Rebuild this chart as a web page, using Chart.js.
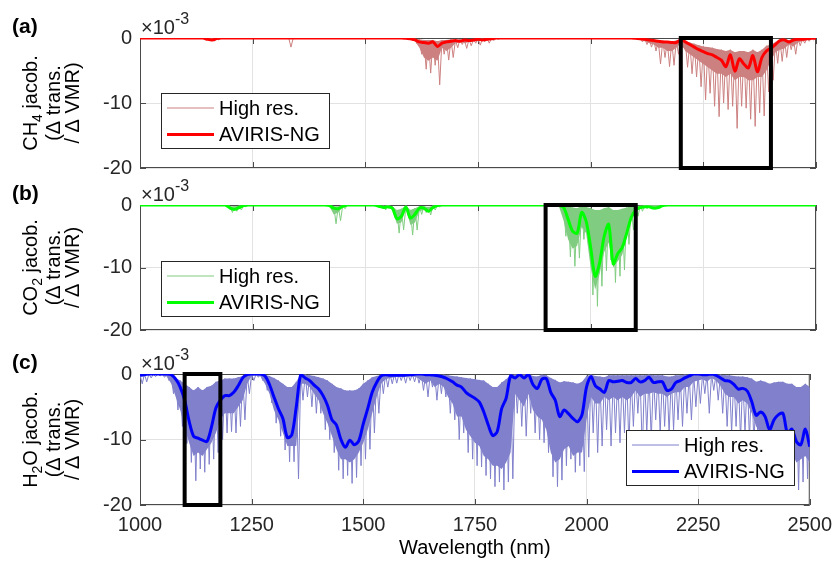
<!DOCTYPE html>
<html><head><meta charset="utf-8">
<script src="https://cdn.jsdelivr.net/npm/chart.js@4.4.1/dist/chart.umd.min.js"></script>
<style>
html,body{margin:0;padding:0;background:#fff;}
#wrap{position:relative;width:840px;height:561px;overflow:hidden;background:#fff;}
canvas{position:absolute;left:0;}
</style></head><body>
<div id="wrap">
<canvas id="ca" width="840" height="190" style="top:0px"></canvas>
<canvas id="cb" width="840" height="180" style="top:170px"></canvas>
<canvas id="cc" width="840" height="221" style="top:340px"></canvas>
</div>
<script>
// wavelength grid (nm), 10 nm steps 1000..2500
const wavelengths = [];
for (let w = 1000; w <= 2500; w += 10) wavelengths.push(w);
const xTicks = [1000, 1250, 1500, 1750, 2000, 2250, 2500];
const yTicks = [-20, -10, 0];
const boxRanges = {a: [2200, 2400], b: [1900, 2100], c: [1100, 1180]};

// ---- CH4 (x10^-3) ----
const ch4Aviris = [
 0,0,0,0,0,0,0,0,0,0,
 0,0,0,0,0,-0.2,-0.3,-0.1,0,0,
 0,0,0,0,0,0,0,0,0,0,
 0,0,0,0,0,0,0,0,0,0,
 0,0,0,0,0,0,0,0,0,0,
 0,0,0,0,0,0,0,0,0,-0.05,
 -0.1,-0.3,-0.6,-0.7,-0.8,-0.6,-1.3,-0.8,-0.6,-0.5,
 -0.4,-0.5,-0.3,-0.4,-0.3,-0.2,-0.3,-0.2,-0.1,0,
 0,0,0,0,0,0,0,0,0,0,
 0,0,0,0,0,0,0,0,0,0,
 0,0,0,0,0,0,0,0,0,0,
 -0.05,-0.1,-0.2,-0.3,-0.4,-0.5,-0.6,-0.6,-0.7,-0.7,
 -0.3,-0.6,-1.0,-1.4,-1.8,-2.1,-2.4,-2.6,-3.0,-3.4,
 -4.4,-2.6,-5.1,-3.2,-4.0,-4.6,-2.7,-5.2,-3.0,-2.0,
 -1.6,-1.0,-0.4,-0.3,-0.6,-0.3,-0.2,-0.2,-0.1,-0.05,
 0];
const ch4HighTop = [
 0,0,0,0,0,0,0,0,0,0,
 0,0,0,0,0,0,0,0,0,0,
 0,0,0,0,0,0,0,0,0,0,
 0,0,0,0,0,0,0,0,0,0,
 0,0,0,0,0,0,0,0,0,0,
 0,0,0,0,0,0,0,0,0,0,
 0,-0.1,-0.2,-0.3,-0.3,-0.3,-0.5,-0.3,-0.3,-0.2,
 -0.3,-0.2,-0.3,-0.2,-0.2,-0.1,-0.1,-0.1,0,0,
 0,0,0,0,0,0,0,0,0,0,
 0,0,0,0,0,0,0,0,0,0,
 0,0,0,0,0,0,0,0,0,0,
 0,0,-0.1,-0.2,-0.3,-0.4,-0.4,-0.5,-0.5,-0.4,
 -0.2,-0.5,-0.7,-0.9,-1.1,-1.3,-1.4,-1.5,-1.7,-1.8,
 -2.0,-1.8,-2.2,-2.0,-2.0,-2.2,-1.8,-2.2,-1.8,-1.2,
 -1.0,-0.6,-0.3,-0.2,-0.3,-0.2,-0.1,-0.1,0,0,
 0];
const ch4HighBody = [
 0,0,0,0,0,0,0,0,0,0,
 0,0,0,0,0,-0.1,-0.2,-0.1,0,0,
 0,0,0,0,0,0,0,0,0,0,
 0,0,0,0,0,0,0,0,0,0,
 0,0,0,0,0,0,0,0,0,0,
 0,0,0,0,0,0,0,0,0,0,
 0,-0.5,-1.5,-3.0,-3.5,-3.0,-3.5,-1.5,-2.0,-1.5,
 -0.8,-0.6,-0.8,-0.6,-0.5,-0.5,-0.3,-0.4,-0.2,-0.1,
 0,0,0,0,0,0,0,0,0,0,
 0,0,0,0,0,0,0,0,0,0,
 0,0,0,0,0,0,0,0,0,0,
 -0.2,-0.3,-0.5,-0.8,-1.0,-1.5,-1.5,-2.0,-2.0,-1.5,
 -0.8,-2.0,-2.5,-3.0,-3.5,-4.0,-4.5,-5.0,-5.5,-5.5,
 -6.0,-5.5,-6.5,-6.0,-6.0,-6.5,-6.5,-6.0,-6.0,-5.0,
 -3.5,-2.2,-1.8,-1.6,-1.0,-1.3,-0.7,-0.5,-0.3,-0.2,
 0];
const ch4HighTip = [
 0,0,0,0,0,0,0,0,0,0,
 0,0,0,0,0,-0.3,-0.5,-0.3,0,0,
 0,0,0,0,0,0,0,0,0,0,
 0,0,0,-1.4,0,0,0,0,0,0,
 0,0,0,0,0,0,0,0,0,0,
 0,0,0,0,0,0,0,0,0,0,
 -0.3,-0.9,-2.5,-4.8,-5.4,-4.2,-7.2,-2.5,-3.4,-3.0,
 -1.5,-1.0,-1.6,-1.2,-0.8,-1.1,-0.6,-0.8,-0.4,-0.2,
 0,0,0,0,0,0,0,0,0,0,
 0,0,0,0,0,0,0,0,0,0,
 0,0,0,0,0,0,0,0,0,0,
 -0.3,-0.6,-1.0,-1.4,-2.0,-4.0,-3.0,-4.4,-4.2,-2.5,
 -1.5,-4.5,-5.5,-6.0,-7.5,-9.5,-8.5,-10.5,-12.1,-10.0,
 -11.0,-10.5,-13.9,-10.5,-10.8,-12.5,-13.6,-11.5,-12.0,-8.3,
 -6.5,-3.9,-3.6,-3.0,-1.8,-2.5,-1.2,-0.8,-0.5,-0.3,
 0];

// ---- CO2 (x10^-3) ----
const co2Aviris = [
 0,0,0,0,0,0,0,0,0,0,
 0,0,0,0,0,0,0,0,0,0,
 -0.5,-0.7,-0.4,-0.1,0,0,0,0,0,0,
 0,0,0,0,0,0,0,0,0,0,
 0,0,-0.1,-0.5,-0.6,-0.2,0,0,0,0,
 0,0,0,-0.2,-0.4,-0.3,-0.5,-2.2,-1.8,-0.3,
 -2.1,-1.5,-0.5,-0.5,-1.0,-0.4,-0.1,0,0,0,
 0,0,0,0,0,0,0,0,0,0,
 0,0,0,0,0,0,0,0,0,0,
 0,0,0,-0.1,-0.4,-2.3,-4.2,-4.5,-1.2,-2.6,
 -6.8,-11.4,-9.2,-5.0,-3.1,-9.4,-7.8,-6.8,-4.5,-2.0,
 -0.8,-0.4,-0.3,-0.3,-0.5,-0.4,-0.1,0,0,0,
 0,0,0,0,0,0,0,0,0,0,
 0,0,0,0,0,0,0,0,0,0,
 0,0,0,0,0,0,0,0,0,0,
 0];
const co2HighTop = [
 0,0,0,0,0,0,0,0,0,0,
 0,0,0,0,0,0,0,0,0,0,
 -0.2,-0.2,-0.1,0,0,0,0,0,0,0,
 0,0,0,0,0,0,0,0,0,0,
 0,0,0,-0.2,-0.2,0,0,0,0,0,
 0,0,0,0,-0.1,0,-0.2,-0.8,-0.6,-0.1,
 -0.8,-0.5,-0.2,-0.2,-0.3,-0.1,0,0,0,0,
 0,0,0,0,0,0,0,0,0,0,
 0,0,0,0,0,0,0,0,0,0,
 0,0,0,0,-0.1,-0.2,-0.4,-0.5,-0.1,-0.3,
 -0.5,-0.8,-0.8,-0.5,-0.3,-0.8,-0.8,-0.6,-0.4,-0.2,
 -0.1,-0.1,0,0,0,0,0,0,0,0,
 0,0,0,0,0,0,0,0,0,0,
 0,0,0,0,0,0,0,0,0,0,
 0,0,0,0,0,0,0,0,0,0,
 0];
const co2HighBody = [
 0,0,0,0,0,0,0,0,0,0,
 0,0,0,0,0,0,0,0,0,0,
 -0.6,-0.5,-0.4,-0.1,0,0,0,0,0,0,
 0,0,0,0,0,0,0,0,0,0,
 0,0,-0.2,-1.5,-1.2,-0.3,0,0,0,0,
 0,0,0,-0.3,-0.5,-0.3,-0.8,-3.0,-2.8,-0.6,
 -3.2,-2.8,-1.0,-0.8,-1.2,-0.5,-0.2,0,0,0,
 0,0,0,0,0,0,0,0,0,0,
 0,0,0,0,0,0,0,0,0,0,
 0,0,0,-0.3,-2.5,-5.5,-7.0,-6.5,-3.5,-4.5,
 -10.0,-13.5,-11.0,-7.5,-6.0,-10.0,-9.0,-8.0,-5.0,-2.5,
 -1.0,-0.6,-0.4,-0.3,-0.5,-0.3,0,0,0,0,
 0,0,0,0,0,0,0,0,0,0,
 0,0,0,0,0,0,0,0,0,0,
 0,0,0,0,0,0,0,0,0,0,
 0];
const co2HighTip = [
 0,0,0,0,0,0,0,0,0,0,
 0,0,0,0,0,0,0,0,0,0,
 -1.2,-1.0,-0.8,-0.3,0,0,0,0,0,0,
 0,0,0,0,0,0,0,0,0,0,
 0,0,-0.4,-3.0,-2.5,-0.6,0,0,0,0,
 0,0,0,-0.5,-0.8,-0.5,-1.2,-4.5,-4.0,-1.0,
 -4.8,-4.0,-1.5,-1.2,-1.6,-0.8,-0.3,0,0,0,
 0,0,0,0,0,0,0,0,0,0,
 0,0,0,0,0,0,0,0,0,0,
 0,0,0,-0.5,-5.0,-8.3,-9.8,-8.5,-5.5,-6.3,
 -14.4,-16.2,-13.0,-10.5,-8.8,-12.4,-11.4,-10.4,-6.3,-4.0,
 -1.8,-1.0,-0.6,-0.4,-0.6,-0.4,0,0,0,0,
 0,0,0,0,0,0,0,0,0,0,
 0,0,0,0,0,0,0,0,0,0,
 0,0,0,0,0,0,0,0,0,0,
 0];

// ---- H2O (x10^-3) ----
const h2oAviris = [
 -0.15,-0.1,0,0,0,0,0,-0.1,-0.8,-2.0,
 -4.0,-7.2,-9.5,-9.8,-10.1,-10.3,-8.1,-5.2,-4.0,-3.3,
 -3.3,-2.8,-1.8,-0.6,-0.1,0,0,0,-0.3,-1.6,
 -3.5,-5.3,-6.8,-9.7,-9.3,-5.0,-0.1,-0.6,-1.0,-1.7,
 -2.3,-3.3,-4.8,-7.0,-7.8,-10.0,-11.2,-10.1,-10.8,-10.2,
 -7.6,-5.3,-2.8,-1.3,-0.3,-0.1,-0.2,-0.2,-0.2,-0.2,
 -0.1,-0.1,0,0,-0.1,-0.1,-0.2,-0.3,-0.5,-0.8,
 -1.2,-1.7,-2.0,-2.8,-3.3,-3.7,-4.3,-5.8,-7.8,-9.4,
 -8.8,-5.3,-3.7,-0.3,-0.6,-0.1,-0.6,-0.1,-1.6,-2.2,
 -0.8,-0.7,-2.8,-4.0,-6.5,-5.5,-6.1,-6.8,-7.3,-6.2,
 -2.0,-0.4,-1.8,-2.3,-2.8,-1.0,-1.2,-1.1,-1.0,-1.3,
 -1.3,-0.7,-1.2,-1.0,-0.5,-1.3,-1.2,-1.2,-2.5,-2.3,
 -1.3,-1.0,-0.6,-0.3,0,0,-0.1,-0.1,0,-0.2,
 -0.6,-1.0,-1.1,-1.6,-2.3,-2.2,-2.6,-4.2,-6.3,-5.8,
 -6.5,-8.5,-7.0,-6.2,-6.0,-9.0,-8.4,-10.3,-10.8,-8.4,
 -11.1];
const h2oHighTop = [
 -0.1,0,0,0,0,0,0,-0.2,-0.6,-1.0,
 -1.5,-2.0,-2.5,-2.0,-2.5,-2.0,-1.8,-1.2,-1.0,-0.7,
 -0.7,-0.7,-0.5,-0.3,-0.1,0,0,0,-0.1,-0.3,
 -0.6,-1.0,-1.5,-2.0,-2.0,-1.2,0,-0.1,-0.2,-0.3,
 -0.5,-0.7,-1.0,-1.5,-2.0,-2.2,-2.5,-2.5,-2.5,-2.2,
 -1.5,-1.0,-0.5,-0.3,-0.1,0,0,0,0,0,
 0,0,0,0,0,0,-0.1,-0.1,-0.1,-0.2,
 -0.3,-0.4,-0.5,-0.6,-0.7,-0.8,-0.9,-1.0,-1.5,-2.0,
 -2.0,-1.3,-0.8,-0.1,-0.1,0,-0.1,0,-0.3,-0.4,
 -0.1,-0.2,-0.6,-0.9,-1.3,-1.1,-1.2,-1.3,-1.5,-1.2,
 -0.3,-0.1,-0.3,-0.4,-0.5,-0.2,-0.2,-0.2,-0.2,-0.2,
 -0.2,-0.2,-0.2,-0.2,-0.1,-0.2,-0.2,-0.2,-0.4,-0.4,
 -0.2,-0.2,-0.1,-0.1,0,0,0,0,0,-0.1,
 -0.1,-0.2,-0.2,-0.3,-0.4,-0.4,-0.5,-0.7,-1.2,-1.0,
 -1.2,-1.5,-1.3,-1.2,-1.2,-1.5,-1.5,-2.0,-2.0,-1.5,
 -2.0];
const h2oHighBody = [
 -0.5,-0.3,-0.1,-0.1,-0.1,-0.2,-0.4,-1.5,-3.5,-5.5,
 -8.0,-10.5,-12.5,-12.0,-12.5,-11.5,-10.5,-9.0,-7.0,-6.0,
 -6.0,-6.0,-5.0,-4.0,-1.5,-0.3,-0.2,-0.4,-1.5,-3.0,
 -5.5,-7.0,-9.0,-11.0,-11.0,-11.0,-1.5,-1.5,-2.0,-3.0,
 -4.0,-6.0,-7.5,-9.5,-11.5,-13.0,-13.0,-13.5,-13.0,-12.0,
 -10.5,-8.5,-6.0,-3.5,-1.5,-0.8,-0.6,-0.5,-0.4,-0.5,
 -0.4,-0.4,-0.5,-1.0,-1.5,-1.0,-2.0,-1.5,-2.0,-3.5,
 -4.5,-6.5,-6.5,-8.5,-9.5,-10.5,-11.0,-12.5,-13.0,-14.0,
 -14.0,-14.5,-13.5,-12.0,-3.0,-4.0,-5.0,-3.0,-5.5,-6.5,
 -7.0,-8.5,-12.0,-13.5,-13.0,-11.5,-11.0,-12.5,-12.0,-12.0,
 -7.0,-3.5,-4.5,-4.5,-3.5,-4.0,-3.5,-4.0,-3.5,-4.0,
 -3.5,-2.5,-3.5,-3.0,-3.0,-2.8,-3.0,-3.0,-3.5,-3.0,
 -2.8,-2.8,-2.0,-2.0,-1.2,-1.0,-0.8,-1.2,-0.6,-1.0,
 -1.8,-3.0,-3.5,-3.5,-4.5,-4.0,-4.5,-6.0,-8.0,-9.0,
 -11.5,-12.5,-11.5,-12.0,-12.5,-13.0,-12.0,-13.5,-13.0,-12.5,
 -13.5];
const h2oHighTip = [
 -1.5,-1.2,-0.6,-0.4,-0.3,-0.5,-1.0,-3.0,-5.5,-8.0,
 -10.6,-13.5,-16.3,-14.5,-15.0,-13.8,-13.0,-12.0,-10.0,-9.0,
 -8.8,-9.0,-8.0,-7.0,-3.0,-1.0,-0.5,-1.0,-2.5,-4.4,
 -7.5,-9.5,-11.6,-13.4,-13.4,-16.0,-4.0,-3.5,-5.0,-6.0,
 -6.0,-8.5,-10.0,-12.0,-14.7,-16.0,-15.5,-16.7,-15.8,-14.0,
 -13.0,-11.5,-9.0,-6.0,-3.0,-2.0,-1.5,-1.4,-1.0,-1.4,
 -1.0,-1.2,-1.4,-2.5,-3.5,-2.0,-4.0,-3.0,-3.5,-6.0,
 -7.0,-10.0,-9.0,-12.0,-13.0,-14.0,-14.2,-15.5,-16.0,-17.2,
 -16.5,-17.7,-16.5,-16.0,-6.0,-8.0,-9.5,-6.0,-9.0,-10.0,
 -10.5,-12.0,-15.7,-17.2,-16.2,-14.0,-13.0,-15.0,-14.0,-14.9,
 -12.7,-9.0,-12.0,-11.0,-8.5,-11.0,-9.0,-10.5,-9.0,-11.0,
 -8.0,-6.0,-12.0,-9.0,-10.0,-7.0,-9.0,-8.0,-9.0,-8.5,
 -7.0,-8.0,-6.0,-7.0,-5.0,-4.5,-3.0,-6.0,-2.5,-4.0,
 -6.0,-8.0,-9.0,-8.0,-10.0,-9.0,-10.0,-11.0,-13.0,-14.0,
 -16.0,-16.7,-15.0,-15.5,-16.0,-17.0,-15.5,-17.7,-16.5,-16.0,
 -17.0];

const FONT = "'Liberation Sans', Arial, Helvetica, sans-serif";
const TXT = '#262626';

function toPoints(ys) { return wavelengths.map((w, i) => ({x: w, y: ys[i]})); }
// high-res lines: each 10 nm bin runs from its upper edge down to its deepest line
function highResLines(top, tip) {
  const pts = [];
  wavelengths.forEach((w, i) => {
    pts.push({x: w, y: top[i]});
    if (i < wavelengths.length - 1) pts.push({x: w + 5, y: tip[i]});
  });
  return pts;
}

const panelCfg = {
  ca: {tag: '(a)', mol: ['CH', '4', ' jacob.'], box: boxRanges.a, leg: [161, 93], hr: '#cc8080', av: '#ff0000'},
  cb: {tag: '(b)', mol: ['CO', '2', ' jacob.'], box: boxRanges.b, leg: [161, 91], hr: '#80cc80', av: '#00ff00'},
  cc: {tag: '(c)', mol: ['H', '2', 'O jacob.'], box: boxRanges.c, leg: [626, 90], hr: '#8080cc', av: '#0000ff'}
};

const deco = {
  id: 'deco',
  beforeDatasetsDraw(chart) {
    const {ctx, chartArea: a, scales: {x, y}} = chart;
    ctx.save();
    ctx.strokeStyle = '#4a4a4a';
    ctx.lineWidth = 1;
    ctx.strokeRect(a.left + 0.5, a.top + 0.5, a.right - a.left - 1, a.bottom - a.top - 1);
    ctx.beginPath();
    xTicks.forEach(v => {
      const px = Math.round(x.getPixelForValue(v)) + 0.5;
      ctx.moveTo(px, a.bottom); ctx.lineTo(px, a.bottom - 6);
      ctx.moveTo(px, a.top); ctx.lineTo(px, a.top + 6);
    });
    yTicks.forEach(v => {
      const py = Math.round(y.getPixelForValue(v)) + 0.5;
      ctx.moveTo(a.left, py); ctx.lineTo(a.left + 6, py);
      ctx.moveTo(a.right, py); ctx.lineTo(a.right - 6, py);
    });
    ctx.stroke();
    ctx.restore();
  },
  afterDatasetsDraw(chart) {
    const c = panelCfg[chart.canvas.id];
    const {ctx, scales: {x, y}} = chart;
    const x0 = x.getPixelForValue(c.box[0]), x1 = x.getPixelForValue(c.box[1]);
    const y0 = y.getPixelForValue(0), y1 = y.getPixelForValue(-20);
    ctx.save();
    ctx.strokeStyle = '#000';
    ctx.lineWidth = 4;
    ctx.strokeRect(x0, y0, x1 - x0, y1 - y0);
    ctx.restore();
  },
  afterDraw(chart) {
    const c = panelCfg[chart.canvas.id];
    const {ctx, chartArea: a} = chart;
    ctx.save();
    // panel tag
    ctx.fillStyle = '#000';
    ctx.font = 'bold 21px ' + FONT;
    ctx.textAlign = 'left';
    ctx.textBaseline = 'alphabetic';
    ctx.fillText(c.tag, 12, a.top - 5);
    // exponent label
    ctx.fillStyle = TXT;
    ctx.font = '20px ' + FONT;
    ctx.fillText('\u00d710', a.left + 1, a.top - 4);
    const w10 = ctx.measureText('\u00d710').width;
    ctx.font = '16px ' + FONT;
    ctx.fillText('-3', a.left + 1 + w10, a.top - 14);
    // y title (three lines, rotated)
    const cy = (a.top + a.bottom) / 2;
    const lines = [
      {parts: [[c.mol[0], 0], [c.mol[1], 1], [c.mol[2], 0]], bx: 37},
      {parts: [['(\u0394 trans.', 0]], bx: 60},
      {parts: [['/ \u0394 VMR)', 0]], bx: 79}
    ];
    ctx.fillStyle = '#000';
    lines.forEach(L => {
      let tw = 0;
      L.parts.forEach(p => { ctx.font = (p[1] ? '14px ' : '20px ') + FONT; tw += ctx.measureText(p[0]).width; });
      ctx.save();
      ctx.translate(L.bx, cy);
      ctx.rotate(-Math.PI / 2);
      let px = -tw / 2;
      L.parts.forEach(p => {
        ctx.font = (p[1] ? '14px ' : '20px ') + FONT;
        ctx.fillText(p[0], px, p[1] ? 5 : 0);
        px += ctx.measureText(p[0]).width;
      });
      ctx.restore();
    });
    // legend
    const [lx, ly] = c.leg, lw = 168, lh = 55;
    ctx.fillStyle = '#fff';
    ctx.fillRect(lx, ly, lw, lh);
    ctx.strokeStyle = '#262626';
    ctx.lineWidth = 1;
    ctx.strokeRect(lx + 0.5, ly + 0.5, lw, lh);
    const ds = chart.data.datasets;
    const rows = [{label: ds[1].label, color: c.hr, w: 1}, {label: ds[0].label, color: c.av, w: 3}];
    rows.forEach((r, i) => {
      const ry = ly + 15 + i * 26.5;
      ctx.strokeStyle = r.color;
      ctx.lineWidth = r.w;
      ctx.beginPath();
      ctx.moveTo(lx + 6, ry); ctx.lineTo(lx + 53, ry);
      ctx.stroke();
      ctx.fillStyle = '#000';
      ctx.font = '20px ' + FONT;
      ctx.textBaseline = 'middle';
      ctx.fillText(r.label, lx + 58, ry + 1);
    });
    ctx.restore();
  }
};

function makePanel(id, av, top, body, tip, padTop, xh, showX) {
  const c = panelCfg[id];
  return new Chart(document.getElementById(id), {
    type: 'line',
    data: {
      datasets: [
        {label: 'AVIRIS-NG', data: toPoints(av), borderColor: c.av, borderWidth: 3,
         pointRadius: 0, fill: false, tension: 0.3, order: 0},
        {label: 'High res.', data: highResLines(top, tip), borderColor: c.hr,
         borderWidth: 1, pointRadius: 0, fill: false, tension: 0, order: 1},
        {label: 'body', data: toPoints(body), borderColor: 'rgba(0,0,0,0)', backgroundColor: c.hr,
         borderWidth: 0, pointRadius: 0, fill: 3, tension: 0, order: 2},
        {label: 'upper edge', data: toPoints(top), borderColor: 'rgba(0,0,0,0)', borderWidth: 0,
         pointRadius: 0, fill: false, tension: 0, order: 3}
      ]
    },
    options: {
      responsive: false, animation: false, events: [],
      layout: {padding: {left: 0, right: 24, top: padTop, bottom: 0}},
      plugins: {legend: {display: false}, tooltip: {enabled: false}},
      scales: {
        x: {
          type: 'linear', min: 1000, max: 2500,
          afterFit: s => { s.height = xh; },
          afterBuildTicks: s => { s.ticks = xTicks.map(v => ({value: v})); },
          ticks: {display: showX, padding: 8, color: TXT, font: {family: FONT, size: 20},
                  maxRotation: 0, autoSkip: false, callback: v => String(v)},
          grid: {color: '#e2e2e2', drawTicks: false},
          border: {display: false},
          title: {display: showX, text: 'Wavelength (nm)', color: '#000',
                  font: {family: FONT, size: 20}, padding: {top: 0, bottom: 1}}
        },
        y: {
          min: -20, max: 0,
          afterFit: s => { s.width = 140; },
          afterBuildTicks: s => { s.ticks = yTicks.map(v => ({value: v})); },
          ticks: {padding: 8, color: TXT, font: {family: FONT, size: 20}, callback: v => String(v)},
          grid: {color: '#e2e2e2', drawTicks: false},
          border: {display: false}
        }
      }
    },
    plugins: [deco]
  });
}

makePanel('ca', ch4Aviris, ch4HighTop, ch4HighBody, ch4HighTip, 38, 22, false);
makePanel('cb', co2Aviris, co2HighTop, co2HighBody, co2HighTip, 35, 13, false);
makePanel('cc', h2oAviris, h2oHighTop, h2oHighBody, h2oHighTip, 34, 56, true);
</script>
</body></html>
